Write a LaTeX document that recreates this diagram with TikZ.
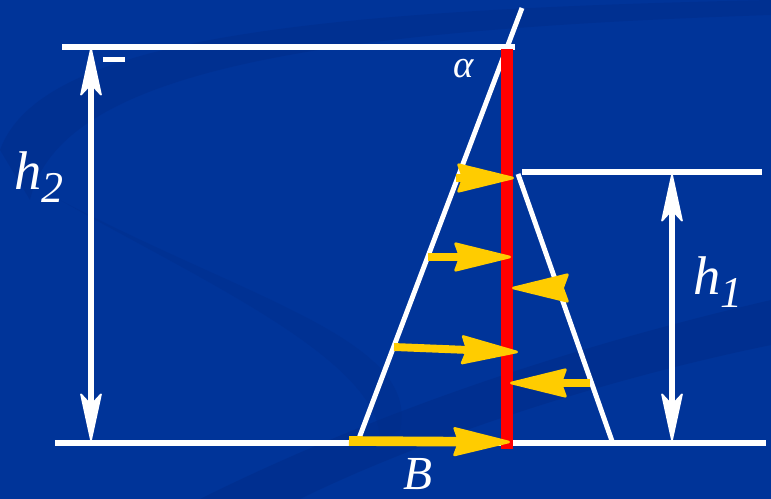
\documentclass[tikz,border=0pt]{standalone}
\usepackage{fontspec}
\setmainfont{Liberation Serif}
\usetikzlibrary{arrows.meta}
\definecolor{bgblue}{RGB}{0,52,153}
\definecolor{swirlblue}{RGB}{0,45,138}
\definecolor{arrowyellow}{RGB}{255,204,0}
\tikzset{
  wall/.style={white, line width=3.4pt},
  slope/.style={white, line width=2.8pt},
  dimarrow/.style={white, line width=3.2pt,
    {Stealth[length=30pt,width=13pt,inset=7pt,round,line width=1pt]}-{Stealth[length=30pt,width=13pt,inset=7pt,round,line width=1pt]}},
  force/.style={arrowyellow, line width=4.5pt,
    -{Stealth[length=35pt,width=17pt,inset=3pt,round,line width=1.5pt]}},
  lbl/.style={text=white, inner sep=0pt, font=\itshape}
}
\newcommand{\hsub}[1]{\textit{h}\raisebox{-7pt}{\fontsize{25}{25}\selectfont #1}}

\begin{document}
\begin{tikzpicture}[x=0.02cm,y=-0.02cm]
\fill[bgblue] (0,0) rectangle (771,499);
\useasboundingbox (0,0) rectangle (771,499);
\fill[swirlblue, opacity=0.5] (0,150) .. controls (40,40) and (300,10) .. (771,0) -- (771,15) .. controls (320,30) and (60,70) .. (30,200) -- cycle;
\fill[swirlblue, opacity=0.6] (200,499) .. controls (400,400) and (600,340) .. (771,300) -- (771,345) .. controls (600,380) and (420,440) .. (300,499) -- cycle;
\fill[swirlblue, opacity=0.4] (60,200) .. controls (250,300) and (420,340) .. (400,430) -- (380,440) .. controls (380,360) and (200,280) .. (60,200) -- cycle;

\coordinate (topL) at (62,47);
\coordinate (topR) at (515,47);
\coordinate (botL) at (55,443);
\coordinate (botR) at (766,443);
\coordinate (tailL) at (522,172);
\coordinate (tailR) at (762,172);
\coordinate (upfoot) at (358,441);
\coordinate (uptop) at (522,8);
\coordinate (dnhead) at (518,174);
\coordinate (dnfoot) at (612,441);
\coordinate (wallT) at (507,49);
\coordinate (wallB) at (507,449);
\coordinate (htwoT) at (91,48);
\coordinate (htwoB) at (91,441);
\coordinate (honeT) at (672,174);
\coordinate (honeB) at (672,441);

\draw[wall] (topL) -- (topR);
\draw[wall] (botL) -- (botR);
\draw[wall] (tailL) -- (tailR);
\draw[slope] (upfoot) -- (uptop);
\draw[slope] (dnhead) -- (dnfoot);
\draw[red, line width=6.8pt] (wallT) -- (wallB);
\fill[white] (103,57) rectangle (125,62);

\draw[dimarrow] (htwoT) -- (htwoB);
\draw[dimarrow] (honeT) -- (honeB);

\draw[force] (456,178) -- (514,178);
\draw[force] (428,257) -- (511,257);
\draw[force] (394,347) -- (518,352);
\draw[force, line width=5.5pt] (349,441) -- (510,442);
\draw[force] (564,288) -- (512,288);
\draw[force] (590,383) -- (510,383);

\node[lbl, anchor=base west, font=\itshape\fontsize{31}{31}\selectfont] (htwo) at (14,190) {\hsub{2}};
\node[lbl, anchor=base west, font=\itshape\fontsize{31}{31}\selectfont] (hone) at (693,295) {\hsub{1}};
\node[lbl, anchor=base west, font=\itshape\fontsize{27}{27}\selectfont] (bnote) at (403,490) {B};
\node[lbl, anchor=base west, font=\itshape\fontsize{22}{22}\selectfont] (alpha) at (453,78) {α};
\end{tikzpicture}
\end{document}
